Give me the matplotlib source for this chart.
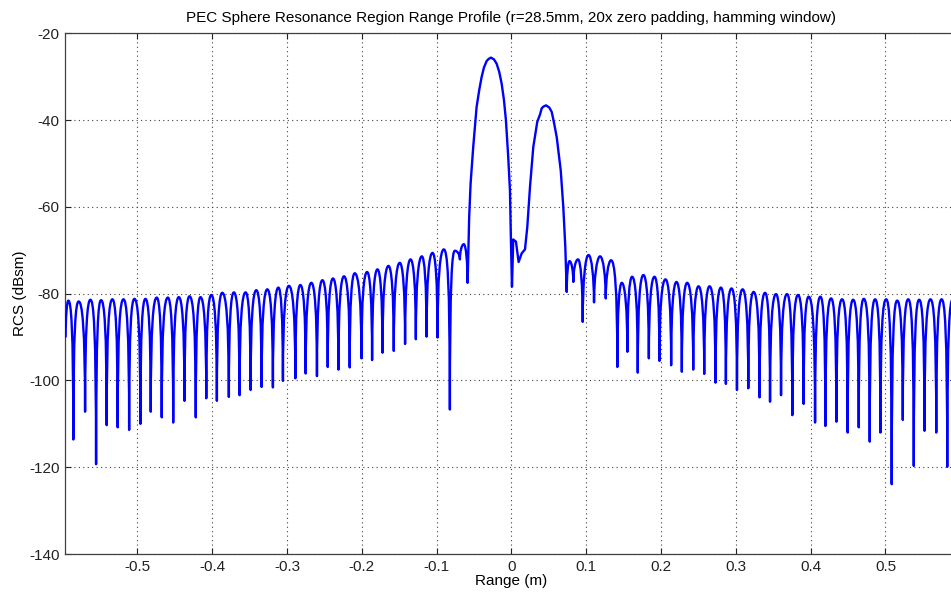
import matplotlib
matplotlib.use("Agg")
import matplotlib.pyplot as plt
from matplotlib.path import Path
from matplotlib.patches import PathPatch

plt.rcParams['font.family'] = ['Liberation Sans', 'DejaVu Sans']
plt.rcParams['axes.unicode_minus'] = False

# ---------------- data ----------------
edge_start = (-0.5960, -89.9)     # curve start at left border
edge_end = (0.5900, -81.3)        # last lobe top at right border

left_peak0 = (-0.5924, -81.6)

left_null_x = [-0.5857, -0.5700, -0.5553, -0.5411, -0.5264, -0.5111, -0.4960, -0.4822,
               -0.4675, -0.4522, -0.4371, -0.4220, -0.4080, -0.3938, -0.3778, -0.3635,
               -0.3487, -0.3340, -0.3189, -0.3055, -0.2889, -0.2751, -0.2600, -0.2456,
               -0.2313, -0.2162, -0.2005, -0.1863, -0.1724, -0.1573, -0.1422, -0.1278,
               -0.1135, -0.0988, -0.0823]
left_null_db = [-113.6, -107.2, -119.3, -110.3, -110.8, -111.4, -110.0, -107.2,
                -108.5, -109.7, -104.7, -108.5, -104.1, -104.7, -103.8, -103.4,
                -102.2, -101.5, -101.6, -100.1, -99.5, -98.4, -99.0, -96.9,
                -97.5, -97.0, -94.9, -95.3, -93.6, -93.2, -91.6, -90.5,
                -89.9, -90.1, -106.7]

left_peak_x = [-0.5786, -0.5629, -0.5486, -0.5335, -0.5187, -0.5040, -0.4893, -0.4742,
               -0.4594, -0.4447, -0.4304, -0.4157, -0.4013, -0.3866, -0.3711, -0.3554,
               -0.3411, -0.3264, -0.3116, -0.2975, -0.2822, -0.2675, -0.2527, -0.2386,
               -0.2238, -0.2095, -0.1930, -0.1791, -0.1644, -0.1493, -0.1349, -0.1198,
               -0.1055, -0.0904]
left_peak_db = [-81.8, -81.4, -81.5, -81.3, -81.3, -81.2, -81.2, -80.9,
                -80.9, -80.8, -80.6, -80.8, -80.3, -79.8, -79.7, -79.7,
                -79.2, -79.0, -78.6, -78.2, -78.0, -77.5, -76.9, -76.5,
                -76.0, -75.3, -75.0, -74.4, -73.6, -72.9, -72.1, -71.4,
                -70.6, -69.8]

inner_left_x = [-0.0756, -0.0689, -0.0636, -0.0586]
inner_left_db = [-70.1, -72.1, -68.6, -77.5]

main_x = [-0.0565, -0.0546, -0.0511, -0.0466, -0.0431, -0.0399, -0.0368, -0.0332,
          -0.0305, -0.0274, -0.0234, -0.0198, -0.0163, -0.0131, -0.0100, -0.0074,
          -0.0043, -0.0020, -0.0007, 0.0007, 0.0024, 0.0060, 0.0096, 0.0137,
          0.0181, 0.0212, 0.0248, 0.0292, 0.0345, 0.0382, 0.0404, 0.0426,
          0.0462, 0.0506, 0.0538, 0.0569, 0.0605, 0.0659, 0.0693, 0.0720, 0.0739]
main_db = [-62.3, -54.6, -46.2, -37.0, -33.1, -30.1, -27.9, -26.4,
           -25.9, -25.6, -26.0, -27.0, -28.9, -31.6, -35.4, -40.0,
           -48.5, -56.2, -67.7, -78.4, -67.5, -68.0, -72.7, -70.7,
           -69.8, -64.6, -55.4, -46.2, -40.4, -38.7, -37.3, -36.9,
           -36.6, -37.1, -38.1, -40.6, -43.9, -51.6, -60.0, -69.2, -79.6]

inner_right_x = [0.0776, 0.0827, 0.0890, 0.0953, 0.1031, 0.1104, 0.1185, 0.1261, 0.1332]
inner_right_db = [-72.5, -77.3, -72.1, -86.5, -71.1, -82.0, -71.4, -81.1, -72.3]

right_null_x = [0.1416, 0.1550, 0.1689, 0.1837, 0.1979, 0.2135, 0.2278, 0.2430,
                0.2577, 0.2728, 0.2867, 0.3015, 0.3166, 0.3317, 0.3457, 0.3604,
                0.3755, 0.3906, 0.4059, 0.4197, 0.4344, 0.4495, 0.4643, 0.4790,
                0.4933, 0.5084, 0.5232, 0.5379, 0.5522, 0.5679, 0.5826]
right_null_db = [-96.9, -93.4, -98.2, -94.9, -95.5, -96.5, -98.0, -97.5,
                 -98.5, -100.5, -100.8, -102.2, -101.8, -103.9, -104.9, -103.4,
                 -108.0, -105.4, -109.7, -110.5, -109.5, -112.0, -110.8, -114.1,
                 -112.0, -123.9, -109.1, -119.7, -111.6, -112.0, -119.9]

right_peak_x = [0.1475, 0.1613, 0.1764, 0.1912, 0.2059, 0.2206, 0.2349, 0.2501,
                0.2648, 0.2800, 0.2942, 0.3090, 0.3237, 0.3390, 0.3537, 0.3684,
                0.3831, 0.3973, 0.4130, 0.4273, 0.4420, 0.4568, 0.4710, 0.4862,
                0.5009, 0.5157, 0.5304, 0.5451, 0.5602, 0.5750]
right_peak_db = [-77.5, -76.1, -75.7, -76.1, -76.7, -77.3, -77.5, -78.3,
                 -78.3, -78.6, -78.8, -79.0, -79.6, -79.8, -80.1, -80.1,
                 -80.3, -80.7, -80.7, -81.1, -81.3, -81.4, -81.2, -81.3,
                 -81.3, -81.6, -81.3, -81.4, -81.3, -81.3]

x_ticks = [-0.5, -0.4, -0.3, -0.2, -0.1, 0, 0.1, 0.2, 0.3, 0.4, 0.5]
x_tick_labels = ['-0.5', '-0.4', '-0.3', '-0.2', '-0.1', '0', '0.1', '0.2', '0.3', '0.4', '0.5']
y_ticks = [-140, -120, -100, -80, -60, -40, -20]

# ---------------- build the curve path ----------------
F = 0.45   # control-point placement (shape of rounded lobes)
K = 6.0    # steepness near nulls (dB)

verts = []
codes = []


def move(p):
    verts.append(p)
    codes.append(Path.MOVETO)


def line(p):
    verts.append(p)
    codes.append(Path.LINETO)


def curve(a, b):
    if b[1] > a[1]:  # rising: a low -> b high
        k = min(K, 0.5 * (b[1] - a[1]))
        c1 = (a[0], b[1] - k)
        c2 = (a[0] + F * (b[0] - a[0]), b[1])
    else:            # falling: a high -> b low
        k = min(K, 0.5 * (a[1] - b[1]))
        c1 = (a[0] + (1 - F) * (b[0] - a[0]), a[1])
        c2 = (b[0], a[1] - k)
    verts.extend([c1, c2, b])
    codes.extend([Path.CURVE4] * 3)


nodes_left = [edge_start, left_peak0]
for i in range(len(left_null_x)):
    nodes_left.append((left_null_x[i], left_null_db[i]))
    if i < len(left_peak_x):
        nodes_left.append((left_peak_x[i], left_peak_db[i]))
nodes_left += list(zip(inner_left_x, inner_left_db))

move(nodes_left[0])
for a, b in zip(nodes_left[:-1], nodes_left[1:]):
    curve(a, b)

for p in zip(main_x, main_db):
    line(p)

nodes_right = [(main_x[-1], main_db[-1])] + list(zip(inner_right_x, inner_right_db))
for i in range(len(right_null_x)):
    nodes_right.append((right_null_x[i], right_null_db[i]))
    if i < len(right_peak_x):
        nodes_right.append((right_peak_x[i], right_peak_db[i]))
nodes_right.append(edge_end)
for a, b in zip(nodes_right[:-1], nodes_right[1:]):
    curve(a, b)

# ---------------- figure ----------------
fig = plt.figure(figsize=(9.51, 5.94), dpi=100)
ax = fig.add_axes([0.0687, 0.0673, 0.9382, 0.8766])

ax.add_patch(PathPatch(Path(verts, codes), fill=False, edgecolor='#0000ff',
                       lw=1.7, joinstyle='round', capstyle='round', zorder=3))

ax.set_xlim(-0.5964, 0.5964)
ax.set_ylim(-140, -20)
ax.set_xticks(x_ticks)
ax.set_xticklabels(x_tick_labels)
ax.set_yticks(y_ticks)

ax.grid(True, color='#404040', linestyle=(0, (1, 3)), linewidth=0.8)
ax.tick_params(direction='in', length=4, width=0.8, labelsize=11, colors='#222222',
               top=True, right=False, pad=4)
for s in ['left', 'bottom', 'top']:
    ax.spines[s].set_color('#404040')
    ax.spines[s].set_linewidth(0.9)
ax.spines['right'].set_visible(False)

ax.set_title('PEC Sphere Resonance Region Range Profile (r=28.5mm, 20x zero padding, hamming window)',
             fontsize=11, pad=8)
ax.set_xlabel('Range (m)', fontsize=11, labelpad=0)
ax.set_ylabel('RCS (dBsm)', fontsize=11, labelpad=2)

fig.savefig('out.png', dpi=100)
